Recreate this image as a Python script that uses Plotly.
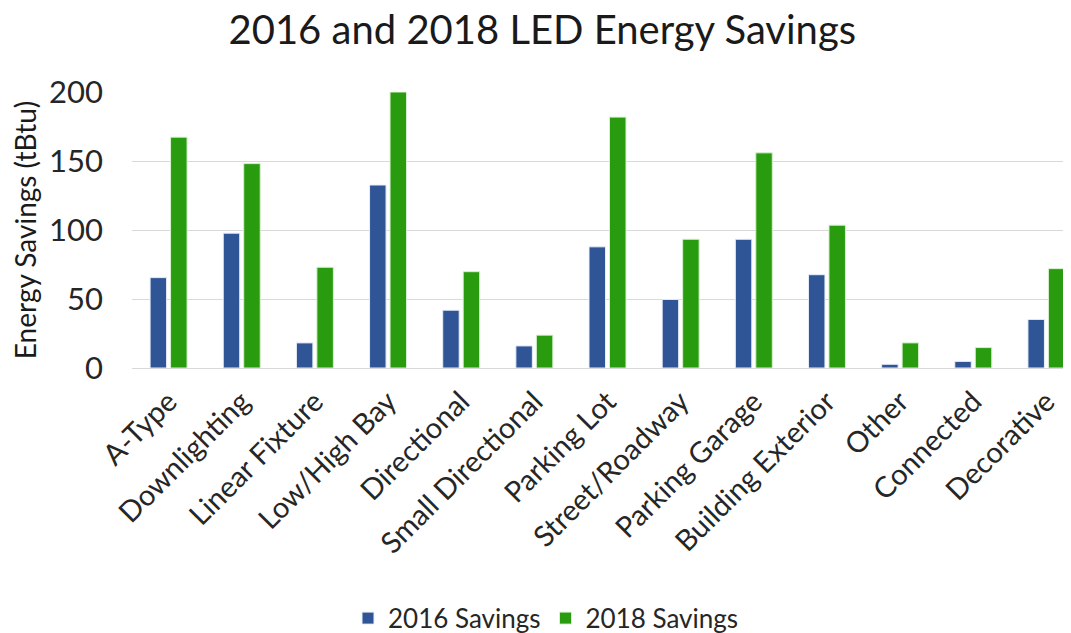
import plotly.graph_objects as go

categories = ["A-Type", "Downlighting", "Linear Fixture", "Low/High Bay", "Directional",
              "Small Directional", "Parking Lot", "Street/Roadway", "Parking Garage",
              "Building Exterior", "Other", "Connected", "Decorative"]
savings_2016 = [65.5, 97.7, 18.2, 132.6, 41.9, 16, 87.8, 49.7, 93.3, 67.6, 2.7, 4.8, 35.2]
savings_2018 = [167.3, 148.1, 73, 200, 69.8, 23.8, 181.8, 93.3, 155.9, 103.5, 18.2, 14.8, 72]

FONT = "Lato"

fig = go.Figure()
fig.add_trace(go.Bar(name="2016 Savings", x=categories, y=savings_2016,
                     marker=dict(color="#2F5597", line=dict(color="#E8EEF8", width=1))))
fig.add_trace(go.Bar(name="2018 Savings", x=categories, y=savings_2018,
                     marker=dict(color="#289C0E", line=dict(color="#D8F0D0", width=1))))

fig.update_layout(
    width=1075, height=633,
    barmode="group", bargap=0.44, bargroupgap=0.195,
    plot_bgcolor="white", paper_bgcolor="white",
    font=dict(family=FONT, color="#262626"),
    title=dict(text="2016 and 2018 LED Energy Savings", x=0.497, xanchor="center", xref="container",
               y=0.966, yanchor="middle", font=dict(size=40, color="#1a1a1a", family=FONT)),
    margin=dict(l=124, r=0, t=84, b=273),
    xaxis=dict(tickangle=-45, tickfont=dict(size=29, color="#262626"), showline=True,
               linecolor="#D9D9D9", linewidth=1, ticks="", automargin=False, ticklabelstandoff=4),
    yaxis=dict(range=[0, 200], tickvals=[0, 50, 100, 150, 200], showgrid=True,
               gridcolor="#D9D9D9", gridwidth=1, zeroline=False, automargin=False,
               tickfont=dict(size=31, color="#262626"), ticklabelstandoff=28,
               title=dict(text="Energy Savings (tBtu)", font=dict(size=28, color="#1a1a1a"), standoff=6)),
    legend=dict(orientation="h", x=0.5, xanchor="center", xref="container", yref="container",
                y=0.036, yanchor="middle", font=dict(size=26, color="#262626"), itemwidth=30),
)

fig.write_html("out.html")
